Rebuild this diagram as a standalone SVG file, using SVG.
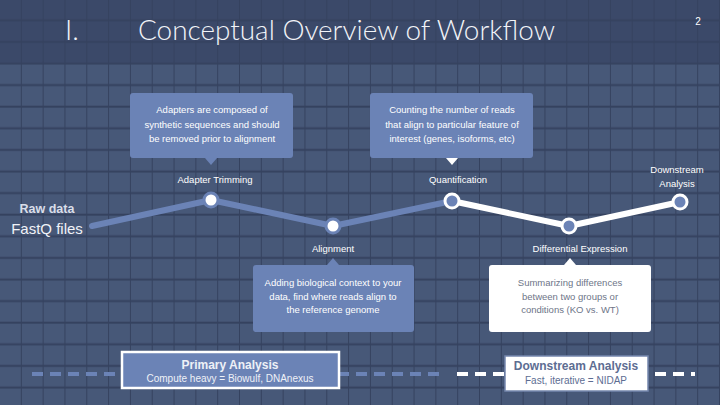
<svg xmlns="http://www.w3.org/2000/svg" width="720" height="405" viewBox="0 0 720 405">
<defs>
<pattern id="grid" x="0" y="0" width="21.818" height="21.6" patternUnits="userSpaceOnUse">
<rect x="20.8" y="0" width="2" height="21.6" fill="#35425f"/>
<rect x="0" y="19.3" width="21.818" height="2" fill="#35425f"/>
</pattern>
<style>
.t{font-family:"Liberation Sans",Arial,sans-serif;fill:#ffffff;text-anchor:middle}
.lbl{font-size:9.5px}
.co{font-size:9.5px}
.title{font-family:Lato,"Open Sans",sans-serif;font-weight:300;fill:#f2f4f8}
.blue{fill:#6b83b6}
.gt{fill:#6e7588}
</style>
</defs>
<rect width="720" height="405" fill="#475878"/>
<rect width="720" height="63" fill="#3b4969"/>
<rect width="720" height="405" fill="url(#grid)"/>

<g id="header">
<text class="title" x="65" y="40" font-size="28">I.</text>
<text class="title" x="138" y="40" font-size="28" textLength="417" lengthAdjust="spacingAndGlyphs">Conceptual Overview of Workflow</text>
<text class="t" x="698" y="25" font-size="10">2</text>
</g>

<g id="connectors">
<polyline points="92,226 211,200 333,226 452,201" fill="none" stroke="#6b83b6" stroke-width="6" stroke-linecap="round" stroke-linejoin="round"/>
<polyline points="452,201 569,226 680,202" fill="none" stroke="#ffffff" stroke-width="6" stroke-linejoin="round"/>
<line x1="32" y1="374" x2="446" y2="374" stroke="#6b83b6" stroke-width="4" stroke-dasharray="11 7"/>
<line x1="457" y1="374" x2="695" y2="374" stroke="#ffffff" stroke-width="4" stroke-dasharray="11 7"/>
</g>

<g id="raw-data">
<text class="t" x="47" y="213" font-size="12.5" font-weight="bold" style="fill:#d9dee9">Raw data</text>
<text class="t" x="47" y="234" font-size="15" style="fill:#f0f2f7">FastQ files</text>
</g>

<g id="adapter-trimming">
<circle cx="211" cy="200" r="8.5" fill="#6b83b6"/>
<circle cx="211" cy="200" r="5.5" fill="#ffffff"/>
<text class="t lbl" x="215" y="183">Adapter Trimming</text>
</g>

<g id="alignment">
<circle cx="333" cy="226" r="8.5" fill="#6b83b6"/>
<circle cx="333" cy="226" r="5.5" fill="#ffffff"/>
<text class="t lbl" x="333" y="252">Alignment</text>
</g>

<g id="quantification">
<circle cx="452" cy="201" r="8.5" fill="#ffffff"/>
<circle cx="452" cy="201" r="5.5" fill="#6b83b6"/>
<text class="t lbl" x="458" y="183">Quantification</text>
</g>

<g id="differential-expression">
<circle cx="569" cy="226" r="8.5" fill="#ffffff"/>
<circle cx="569" cy="226" r="5.5" fill="#6b83b6"/>
<text class="t lbl" x="580" y="252">Differential Expression</text>
</g>

<g id="downstream-analysis">
<circle cx="680" cy="202" r="8.5" fill="#ffffff"/>
<circle cx="680" cy="202" r="5.5" fill="#6b83b6"/>
<text class="t lbl" x="677" y="173">Downstream</text>
<text class="t lbl" x="677" y="187">Analysis</text>
</g>

<g id="callout-adapters">
<rect class="blue" x="130" y="93" width="163" height="65" rx="3"/>
<polygon class="blue" points="205,158 217,158 211,165"/>
<text class="t co" x="212" y="113">Adapters are composed of</text>
<text class="t co" x="212" y="128">synthetic sequences and should</text>
<text class="t co" x="212" y="142">be removed prior to alignment</text>
</g>

<g id="callout-counting">
<rect class="blue" x="370" y="93" width="163" height="65" rx="3"/>
<polygon points="446,158 458,158 452,165" fill="#ffffff"/>
<text class="t co" x="452" y="113">Counting the number of reads</text>
<text class="t co" x="452" y="128">that align to particular feature of</text>
<text class="t co" x="452" y="142">interest (genes, isoforms, etc)</text>
</g>

<g id="callout-adding">
<rect class="blue" x="253" y="265" width="161" height="67" rx="3"/>
<polygon class="blue" points="327,265 339,265 333,258"/>
<text class="t co" x="333" y="286">Adding biological context to your</text>
<text class="t co" x="333" y="300">data, find where reads align to</text>
<text class="t co" x="333" y="313">the reference genome</text>
</g>

<g id="callout-summarizing">
<rect x="489" y="265" width="162" height="67" rx="3" fill="#ffffff"/>
<polygon points="564,265 576,265 570,258" fill="#ffffff"/>
<text class="t co gt" x="570" y="286">Summarizing differences</text>
<text class="t co gt" x="570" y="300">between two groups or</text>
<text class="t co gt" x="570" y="313">conditions (KO vs. WT)</text>
</g>

<g id="primary-analysis">
<rect x="122" y="352" width="217" height="36" fill="#6b83b6" stroke="#ffffff" stroke-width="2.5"/>
<text class="t" x="230" y="369" font-size="12" font-weight="bold" style="fill:#eef1f7">Primary Analysis</text>
<text class="t" x="230" y="382" font-size="10" style="fill:#eef1f7">Compute heavy = Biowulf, DNAnexus</text>
</g>

<g id="downstream-box">
<rect x="505" y="356" width="143" height="35" fill="#ffffff" stroke="#7587ad" stroke-width="1.5"/>
<text class="t" x="576" y="370" font-size="12" font-weight="bold" style="fill:#5d6d92">Downstream Analysis</text>
<text class="t" x="576" y="384" font-size="10" style="fill:#5d6d92">Fast, iterative = NIDAP</text>
</g>
</svg>
